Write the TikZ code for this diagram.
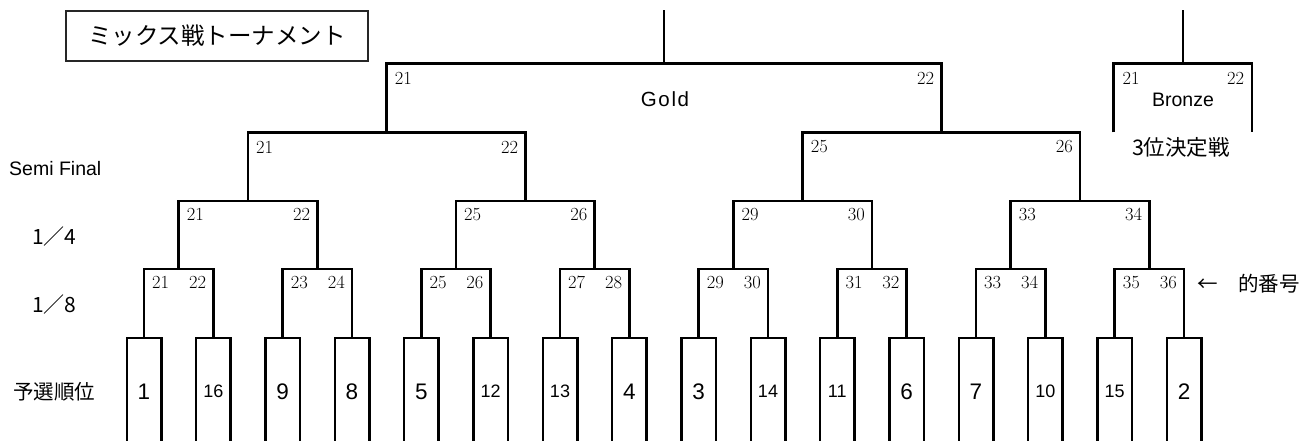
\documentclass[tikz,border=0pt]{standalone}
\usepackage{fontspec}
\newfontfamily\jp{Noto Sans CJK JP}
\newfontfamily\sansf{Liberation Sans}
\usetikzlibrary{calc}
\begin{document}
\begin{tikzpicture}[x=1pt,y=-1pt,line width=2.4pt,
  lab/.style={inner sep=0pt,font=\fontsize{18.5}{18.5}\selectfont},
  seedbig/.style={inner sep=0pt,font=\sansf\fontsize{22.5}{22.5}\selectfont},
  seedsmall/.style={inner sep=0pt,font=\sansf\fontsize{18}{18}\selectfont},
  lvl/.style={inner sep=0pt,anchor=west,font=\sansf\fontsize{19.5}{19.5}\selectfont},
  lvljp/.style={inner sep=0pt,anchor=west,font=\jp\fontsize{21}{21}\selectfont}]
\useasboundingbox (0,0) rectangle (1315,441);
% seeds
\foreach \s [count=\i from 0] in {1,16,9,8,5,12,13,4,3,14,11,6,7,10,15,2} {
  \pgfmathsetmacro\xx{144+69.333*\i}
  \coordinate (p\i) at (\xx,338);
  \draw (\xx-17.3,441) -- (\xx-17.3,338) -- (\xx+17.3,338) -- (\xx+17.3,441);
  \ifnum\s>9
    \node[seedsmall] (s\i) at (\xx,391.5) {\s};
  \else
    \node[seedbig] (s\i) at (\xx,391.5) {\s};
  \fi
}
% 1/8
\foreach \k in {0,...,7} {
  \pgfmathtruncatemacro\a{2*\k}
  \pgfmathtruncatemacro\b{2*\k+1}
  \pgfmathtruncatemacro\la{21+2*\k}
  \pgfmathtruncatemacro\lb{22+2*\k}
  \coordinate (m\k) at (178.667+138.667*\k,269);
  \draw (p\a) |- (m\k) -| (p\b);
  \node[lab,anchor=west] (ml\k) at ($(p\a|-m\k)+(7,13.5)$) {\la};
  \node[lab,anchor=east] (mr\k) at ($(p\b|-m\k)+(-6,13.5)$) {\lb};
}
% 1/4
\foreach \k in {0,...,3} {
  \pgfmathtruncatemacro\a{2*\k}
  \pgfmathtruncatemacro\b{2*\k+1}
  \pgfmathtruncatemacro\la{21+4*\k}
  \pgfmathtruncatemacro\lb{22+4*\k}
  \coordinate (q\k) at (248+277.333*\k,201);
  \draw (m\a) |- (q\k) -| (m\b);
  \node[lab,anchor=west] (ql\k) at ($(m\a|-q\k)+(7,13.5)$) {\la};
  \node[lab,anchor=east] (qr\k) at ($(m\b|-q\k)+(-6,13.5)$) {\lb};
}
% semi
\foreach \k in {0,1} {
  \pgfmathtruncatemacro\a{2*\k}
  \pgfmathtruncatemacro\b{2*\k+1}
  \pgfmathtruncatemacro\la{21+4*\k}
  \pgfmathtruncatemacro\lb{22+4*\k}
  \coordinate (r\k) at (386.667+554.667*\k,132.5);
  \draw (q\a) |- (r\k) -| (q\b);
  \node[lab,anchor=west] (rl\k) at ($(q\a|-r\k)+(7,14.5)$) {\la};
  \node[lab,anchor=east] (rr\k) at ($(q\b|-r\k)+(-6,14.5)$) {\lb};
}
% gold
\coordinate (g) at (664,63.5);
\coordinate (gt) at (664,10);
\draw (r0) |- (g) -| (r1);
\draw (g) -- (gt);
\node[lab,anchor=west] (gl) at ($(r0|-g)+(7,14.5)$) {21};
\node[lab,anchor=east] (gr) at ($(r1|-g)+(-6,14.5)$) {22};
\node[inner sep=0pt,font=\sansf\fontsize{20.5}{20.5}\selectfont\addfontfeature{LetterSpace=8}] (gold) at (665,99) {Gold};
% bronze
\coordinate (b) at (1182.7,63.5);
\coordinate (bt) at (1182.7,10);
\coordinate (bl) at (1113.3,132.5);
\coordinate (br) at (1251.7,132.5);
\draw (bl) |- (b) -| (br);
\draw (b) -- (bt);
\node[lab,anchor=west] (bll) at ($(bl|-b)+(8,14.5)$) {21};
\node[lab,anchor=east] (brl) at ($(br|-b)+(-6.5,14.5)$) {22};
\node[inner sep=0pt,font=\sansf\fontsize{19.5}{19.5}\selectfont] (bronze) at (1183,100) {Bronze};
\node[inner sep=0pt,font=\jp\fontsize{21.5}{21.5}\selectfont] (third) at (1181,147) {3位決定戦};
% annotations
\node[inner sep=0pt,anchor=west,font=\jp\fontsize{20.5}{20.5}\selectfont] (mato) at (1196,284) {←　的番号};
\node[draw=black!85,line width=2pt,inner sep=0pt,minimum width=302.6pt,minimum height=50pt,font=\jp\fontsize{23.5}{23.5}\selectfont] (title) at (217,35.7) {ミックス戦トーナメント};
% level labels
\node[lvl] (semi) at (8,169) {Semi Final};
\node[lvljp] (quarter) at (31,237) {1／4};
\node[lvljp] (eighth) at (31,305) {1／8};
\node[inner sep=0pt,anchor=west,font=\jp\fontsize{20.5}{20.5}\selectfont] (yosen) at (12,392) {予選順位};
\end{tikzpicture}
\end{document}
